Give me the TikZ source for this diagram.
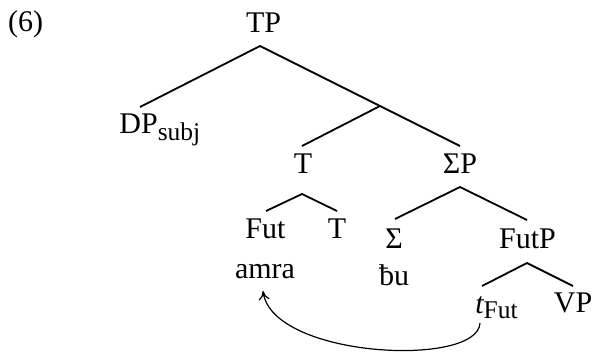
\documentclass[tikz,border=0pt]{standalone}
\usepackage{fontspec}
\setmainfont{Liberation Serif}
\usetikzlibrary{arrows.meta}
\newcommand\subsz{\fontsize{12.75pt}{14pt}\selectfont}
\begin{document}
\begin{tikzpicture}[x=0.5pt,y=-0.5pt,
  lab/.style={inner sep=0pt, anchor=base, font=\fontsize{15pt}{18pt}\selectfont},
  branch/.style={line width=0.9pt},
  mv/.style={line width=0.6pt, -{To[length=4.5pt,width=5.5pt]}}]
\useasboundingbox (0,0) rectangle (592,354);
% labels
\node[lab] (ex) at (25.5,31) {(6)};
\node[lab] (TP) at (263.5,32) {TP};
\node[lab, anchor=base west] (DP) at (119,133) {DP\raisebox{-3.5pt}{\subsz subj}};
\node[lab] (T1) at (303,173) {T};
\node[lab] (SP) at (460,173) {ΣP};
\node[lab] (Fut) at (265.5,238) {Fut};
\node[lab] (T2) at (337,238) {T};
\node[lab] (amra) at (265,278) {amra};
\node[lab] (Sig) at (394,248) {Σ};
\node[lab] (bu) at (394,285) {ƀu};
\node[lab] (FutP) at (527.5,248) {FutP};
\node[lab, anchor=base west] (tF) at (475,313) {\itshape t\upshape\raisebox{-2.5pt}{\subsz Fut}};
\node[lab] (VP) at (573,312) {VP};
% branch points
\coordinate (TPa) at (260,46);
\coordinate (DPt) at (140,107);
\coordinate (Xa) at (380,106);
\coordinate (T1t) at (302,146);
\coordinate (SPt) at (460,146);
\coordinate (T1a) at (302,194);
\coordinate (Futt) at (266,211);
\coordinate (T2t) at (337,211);
\coordinate (SPa) at (460,187);
\coordinate (Sigt) at (395,219);
\coordinate (FutPt) at (527,220);
\coordinate (FutPa) at (527,263);
\coordinate (tFt) at (482,286);
\coordinate (VPt) at (573,286);
\coordinate (tFb) at (480,323);
\coordinate (amrab) at (263,291);
% branches
\draw[branch] (DPt) -- (TPa) -- (SPt);
\draw[branch] (Xa) -- (T1t);
\draw[branch] (Futt) -- (T1a) -- (T2t);
\draw[branch] (Sigt) -- (SPa) -- (FutPt);
\draw[branch] (tFt) -- (FutPa) -- (VPt);
% movement arrow
\draw[mv] (tFb) .. controls (478,368) and (272,358) .. (amrab);
\end{tikzpicture}
\end{document}
